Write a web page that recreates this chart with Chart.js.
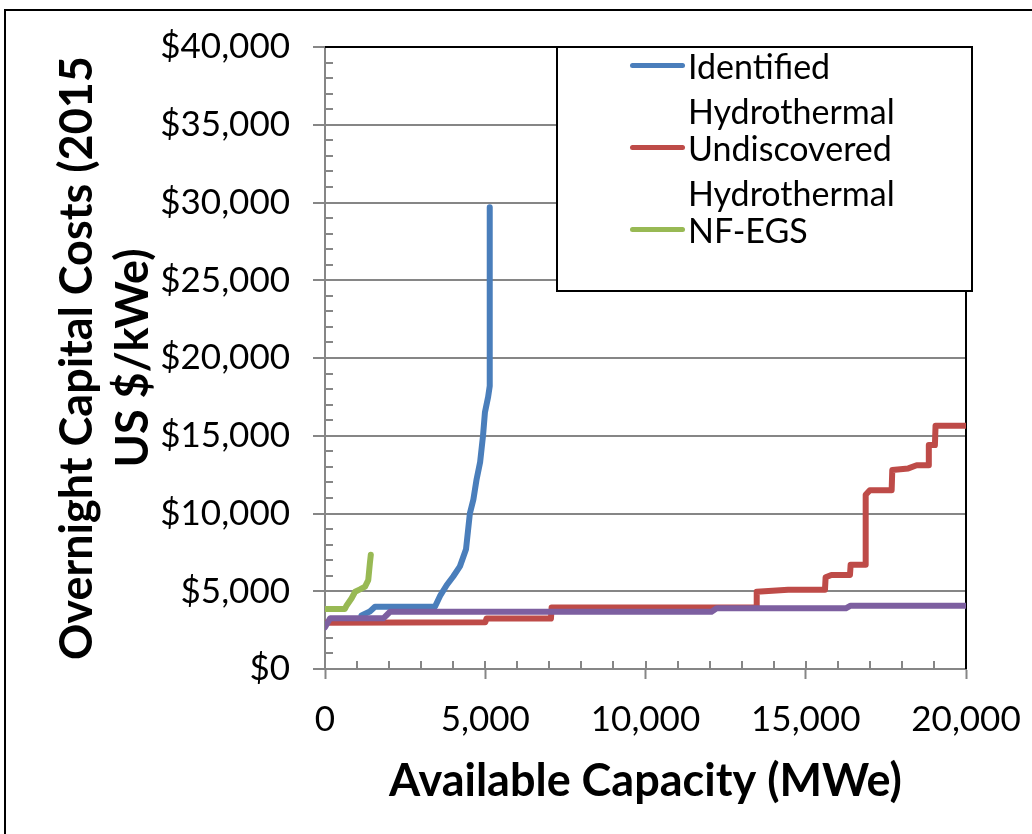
<!DOCTYPE html>
<html>
<head>
<meta charset="utf-8">
<script src="https://cdn.jsdelivr.net/npm/chart.js@4.4.1/dist/chart.umd.min.js"></script>
<style>
  body { margin: 0; background: #fff; overflow: hidden; }
  #wrap { position: relative; width: 1032px; height: 834px; overflow: hidden; }
  #chart { display: block; }
  #frame {
    position: absolute; left: 4px; top: 9px; width: 1100px; height: 900px;
    border-left: 2px solid #000; border-top: 2px solid #000; pointer-events: none;
  }
  #legend {
    position: absolute; left: 556px; top: 46px; width: 417px; height: 246px;
    box-sizing: border-box; border: 2px solid #000; background: #fff;
    font-family: Lato, sans-serif; font-size: 34px; line-height: 45px; color: #000;
  }
  .item { position: absolute; left: 130px; width: 270px; }
  .swatch { position: absolute; left: -58px; top: 20px; width: 55px; height: 5px; border-radius: 3px; }
</style>
</head>
<body>
<div id="wrap">
  <canvas id="chart" width="1032" height="834"></canvas>
  <div id="legend"></div>
  <div id="frame"></div>
</div>
<script>
// capacity (MWe) / overnight cost ($/kWe)
const identifiedX    = [1140, 1400, 1560, 3430, 3590, 3800, 4000, 4210, 4400, 4520, 4630, 4730, 4840, 4930, 4990, 5090, 5140, 5140];
const identifiedCost = [3450, 3700, 4000, 4000, 4700, 5400, 5950, 6600, 7700, 10000, 10900, 12200, 13300, 15000, 16500, 17500, 18200, 29700];

const undiscoveredX    = [0, 5000, 5040, 7050, 7070, 13450, 13470, 14450, 15600, 15620, 15800, 16380, 16400, 16850, 16870, 17000, 17680, 17700, 18200, 18460, 18820, 18840, 19030, 19050, 20000];
const undiscoveredCost = [2980, 3000, 3250, 3250, 3950, 3950, 4970, 5100, 5100, 5900, 6050, 6050, 6700, 6700, 11200, 11500, 11500, 12800, 12900, 13100, 13100, 14400, 14400, 15650, 15650];

const nfegsX    = [0, 620, 680, 830, 940, 1090, 1250, 1350, 1400, 1430];
const nfegsCost = [3860, 3860, 4100, 4550, 4970, 5120, 5300, 5720, 6800, 7350];

const otherX    = [0, 160, 1820, 2030, 12060, 12220, 16250, 16400, 20000];
const otherCost = [2680, 3260, 3260, 3680, 3680, 3900, 3900, 4070, 4070];

const seriesNames = ['Identified Hydrothermal', 'Undiscovered Hydrothermal', 'NF-EGS'];

const xMax = 20000, yMax = 40000, majorStep = 5000, minorStep = 1000;
const gridColor = '#868686';

function toPoints(xs, ys) {
    return xs.map((x, i) => ({ x: x, y: ys[i] }));
}

function lineSet(label, xs, ys, color, order) {
    return {
        label: label,
        data: toPoints(xs, ys),
        showLine: true,
        borderColor: color,
        backgroundColor: color,
        borderWidth: 6,
        borderCapStyle: 'round',
        borderJoinStyle: 'round',
        pointRadius: 0,
        pointHoverRadius: 0,
        order: order
    };
}

// minor tick marks inside the plot and the black top/right edge of the plot area
const plotMarks = {
    id: 'plotMarks',
    beforeDatasetsDraw(chart) {
        const { ctx, chartArea: a, scales: { x, y } } = chart;
        ctx.save();
        ctx.strokeStyle = gridColor;
        ctx.lineWidth = 2;
        ctx.beginPath();
        for (let v = 0; v <= xMax; v += minorStep) {
            const px = Math.round(x.getPixelForValue(v));
            ctx.moveTo(px, a.bottom);
            ctx.lineTo(px, a.bottom - 8);
        }
        for (let v = 0; v <= yMax; v += minorStep) {
            const py = Math.round(y.getPixelForValue(v));
            ctx.moveTo(a.left, py);
            ctx.lineTo(a.left + 8, py);
        }
        ctx.stroke();
        ctx.strokeStyle = '#000';
        ctx.beginPath();
        ctx.moveTo(a.left, a.top);
        ctx.lineTo(a.right, a.top);
        ctx.lineTo(a.right, a.bottom);
        ctx.stroke();
        ctx.restore();
    }
};

const chartCanvas = document.getElementById('chart');

const chart = new Chart(chartCanvas, {
    type: 'scatter',
    data: {
        datasets: [
            lineSet(seriesNames[0], identifiedX, identifiedCost, '#4A7EBB', 2),
            lineSet(seriesNames[1], undiscoveredX, undiscoveredCost, '#BE4B48', 1),
            lineSet(seriesNames[2], nfegsX, nfegsCost, '#98B954', 1),
            lineSet('', otherX, otherCost, '#7D5FA0', 0)
        ]
    },
    options: {
        responsive: false,
        animation: false,
        layout: { padding: { left: 0, top: 47, right: 66, bottom: 0 } },
        plugins: {
            legend: { display: false },
            tooltip: { enabled: false }
        },
        scales: {
            x: {
                type: 'linear',
                min: 0,
                max: xMax,
                afterFit(s) { s.height = 165; s.paddingLeft = 0; s.paddingRight = 0; },
                ticks: {
                    stepSize: majorStep,
                    autoSkip: false,
                    padding: 20,
                    color: '#000',
                    font: { family: 'Lato', size: 35 },
                    maxRotation: 0,
                    callback: v => v.toLocaleString('en-US')
                },
                grid: { drawOnChartArea: false, drawTicks: true, tickLength: 10, tickColor: gridColor, tickWidth: 2 },
                border: { color: gridColor, width: 2 },
                title: {
                    display: true,
                    text: 'Available Capacity (MWe)',
                    color: '#000',
                    font: { family: 'Lato', size: 45, weight: 'bold', lineHeight: '56px' },
                    padding: { top: 0, bottom: 25 }
                }
            },
            y: {
                min: 0,
                max: yMax,
                afterFit(s) { s.width = 325; s.paddingTop = 0; s.paddingBottom = 0; },
                ticks: {
                    stepSize: majorStep,
                    autoSkip: false,
                    padding: 23,
                    color: '#000',
                    font: { family: 'Lato', size: 35 },
                    callback: v => '$' + v.toLocaleString('en-US')
                },
                grid: { color: gridColor, lineWidth: 2, tickLength: 12, tickColor: gridColor, tickWidth: 2 },
                border: { color: gridColor, width: 2 },
                title: {
                    display: true,
                    text: ['Overnight Capital Costs (2015', 'US $/kWe)'],
                    color: '#000',
                    font: { family: 'Lato', size: 45, weight: 'bold', lineHeight: '56px' },
                    padding: { top: 49, bottom: 0 }
                }
            }
        }
    },
    plugins: [plotMarks]
});

// legend drawn as html so that long names wrap like the original
const legendDiv = document.getElementById('legend');
chart.data.datasets.filter(d => d.label).forEach((d, i) => {
    const item = document.createElement('div');
    item.className = 'item';
    item.style.top = (-5 + i * 82) + 'px';
    const sw = document.createElement('span');
    sw.className = 'swatch';
    sw.style.background = d.borderColor;
    item.appendChild(sw);
    item.appendChild(document.createTextNode(d.label));
    legendDiv.appendChild(item);
});
</script>
</body>
</html>
